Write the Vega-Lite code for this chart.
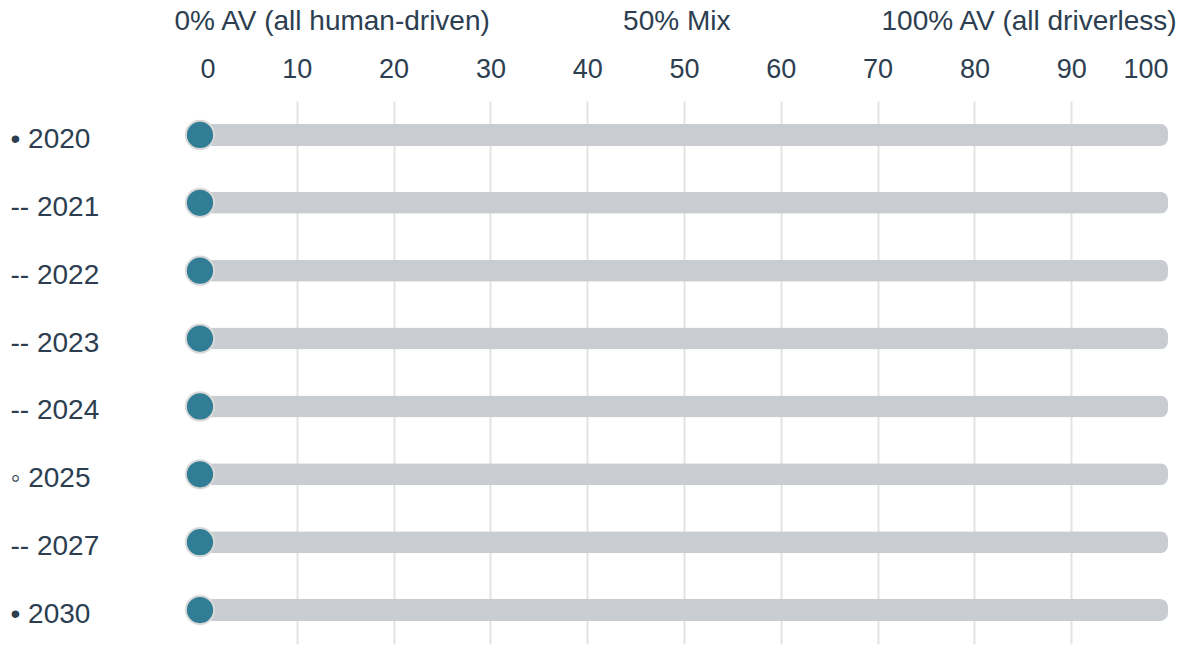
{
  "$schema": "https://vega.github.io/schema/vega-lite/v6.json",
  "autosize": "none",
  "width": 968,
  "height": 543,
  "padding": {"left": 200, "top": 101, "right": 15, "bottom": 2},
  "background": "white",
  "config": {
    "view": {"stroke": null},
    "font": "Liberation Sans",
    "axis": {"labelFont": "Liberation Sans", "labelColor": "#2c3e50", "labelLimit": 0}
  },
  "data": {
    "values": [
      {"year": "• 2020", "av": 0, "total": 100},
      {"year": "-- 2021", "av": 0, "total": 100},
      {"year": "-- 2022", "av": 0, "total": 100},
      {"year": "-- 2023", "av": 0, "total": 100},
      {"year": "-- 2024", "av": 0, "total": 100},
      {"year": "◦ 2025", "av": 0, "total": 100},
      {"year": "-- 2027", "av": 0, "total": 100},
      {"year": "• 2030", "av": 0, "total": 100}
    ]
  },
  "encoding": {
    "y": {
      "field": "year",
      "type": "nominal",
      "sort": null,
      "axis": {
        "title": null,
        "domain": false,
        "ticks": false,
        "tickSize": 0,
        "labelAlign": "left",
        "labelPadding": 190,
        "labelOffset": 5,
        "labelFontSize": 28,
        "labelColor": "#2c3e50"
      }
    }
  },
  "layer": [
    {
      "mark": {"type": "bar", "size": 22, "cornerRadius": 8, "color": "#c9cdd2"},
      "encoding": {
        "x": {
          "field": "total",
          "type": "quantitative",
          "scale": {"domain": [0, 100], "nice": false},
          "axis": {
            "orient": "top",
            "title": null,
            "values": [0, 10, 20, 30, 40, 50, 60, 70, 80, 90, 100],
            "domain": false,
            "ticks": false,
            "tickSize": 0,
            "labelPadding": 18,
            "labelFontSize": 27,
            "labelFlush": true,
            "grid": true,
            "gridColor": "#e3e3e3",
            "gridWidth": 2,
            "gridOpacity": {"condition": {"test": "datum.value == 0 || datum.value == 100", "value": 0}, "value": 1}
          }
        }
      }
    },
    {
      "mark": {"type": "circle", "size": 800, "color": "#317d95", "opacity": 1, "stroke": "#d9d9d9", "strokeWidth": 2},
      "encoding": {
        "x": {"field": "av", "type": "quantitative", "scale": {"domain": [0, 100], "nice": false}, "axis": null}
      }
    },
    {
      "mark": {"type": "point", "opacity": 0},
      "encoding": {
        "x": {
          "field": "av",
          "type": "quantitative",
          "scale": {"domain": [0, 100], "nice": false},
          "axis": {
            "orient": "top",
            "title": null,
            "values": [13.6, 49.2, 85.6],
            "labelExpr": "datum.value < 30 ? '0% AV (all human-driven)' : datum.value < 70 ? '50% Mix' : '100% AV (all driverless)'",
            "domain": false,
            "ticks": false,
            "tickSize": 0,
            "grid": false,
            "labelPadding": 0,
            "offset": 66,
            "labelFontSize": 28,
            "labelFlush": false
          }
        }
      }
    }
  ],
  "resolve": {"scale": {"x": "independent"}, "axis": {"x": "independent"}}
}
